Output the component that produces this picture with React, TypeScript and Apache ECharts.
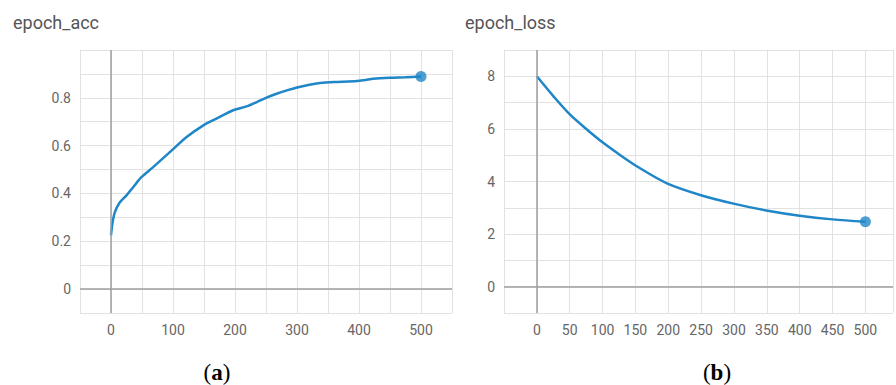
import React, { useEffect, useRef } from "react";
import * as echarts from "echarts";

const accEpochs = [0, 2, 6, 14, 25, 36, 49, 68, 98, 122, 149, 170, 197, 220, 235, 250, 267, 285, 300, 320, 337, 360, 391, 410, 423, 450, 475, 500];
const accValues = [0.225, 0.27, 0.32, 0.362, 0.392, 0.427, 0.468, 0.51, 0.58, 0.636, 0.685, 0.713, 0.748, 0.765, 0.782, 0.8, 0.817, 0.832, 0.843, 0.855, 0.862, 0.866, 0.869, 0.875, 0.88, 0.884, 0.886, 0.889];

const lossEpochs = [0, 26, 51, 77, 102, 127, 152, 198, 251, 301, 349, 400, 450, 500];
const lossValues = [8.0, 7.22, 6.53, 5.96, 5.45, 5.0, 4.58, 3.93, 3.47, 3.15, 2.9, 2.7, 2.56, 2.47];

const accTitle = "epoch_acc";
const lossTitle = "epoch_loss";
const accYLabels = [0, 0.2, 0.4, 0.6, 0.8];
const lossYLabels = [0, 2, 4, 6, 8];
const accXLabels = [0, 100, 200, 300, 400, 500];
const lossXLabels = [0, 50, 100, 150, 200, 250, 300, 350, 400, 450, 500];

const LINE = "#1f86c8";
const GRID = "#e2e2e2";
const ZERO = "#9e9e9e";
const LABEL = "#666";
const FONT = "Roboto, 'Noto Sans', sans-serif";

const near = (v: number, list: number[]) => list.some((t) => Math.abs(t - v) < 1e-6);

export default function App() {
  const ref = useRef<HTMLDivElement>(null);
  useEffect(() => {
    if (!ref.current) return;
    const chart = echarts.init(ref.current, null, { renderer: "svg" });
    const xAxisBase = (gridIndex: number, max: number, labels: number[]) => ({
      type: "value",
      gridIndex,
      min: -50,
      max,
      interval: 50,
      axisLine: { show: false },
      axisTick: { show: true, length: 7, lineStyle: { color: GRID } },
      splitLine: { show: true, lineStyle: { color: GRID, width: 1 } },
      axisLabel: {
        color: LABEL,
        fontSize: 14,
        fontFamily: FONT,
        margin: 10,
        showMinLabel: true,
        showMaxLabel: true,
        formatter: (v: number) => (near(v, labels) ? String(v) : ""),
      },
    });
    const yAxisBase = (gridIndex: number, min: number, max: number, interval: number, labels: number[]) => ({
      type: "value",
      gridIndex,
      min,
      max,
      interval,
      axisLine: { show: false },
      axisTick: { show: true, length: 7, lineStyle: { color: GRID } },
      splitLine: { show: true, lineStyle: { color: GRID, width: 1 } },
      axisLabel: {
        color: LABEL,
        fontSize: 14,
        fontFamily: FONT,
        margin: 9,
        showMinLabel: true,
        showMaxLabel: true,
        formatter: (v: number) => (near(v, labels) ? String(Math.round(v * 10) / 10) : ""),
      },
    });
    const zeroMark = {
      silent: true,
      symbol: "none",
      label: { show: false },
      lineStyle: { color: ZERO, width: 1.5, type: "solid" },
      data: [{ xAxis: 0 }, { yAxis: 0 }],
    };
    const caption = (x: number, letter: string) => ({
      type: "text",
      x,
      y: 372,
      style: {
        text: "{p|(}{b|" + letter + "}{p|)}",
        align: "center",
        verticalAlign: "middle",
        rich: {
          p: { fontSize: 23, fontFamily: "'Liberation Serif', serif", fill: "#000" },
          b: { fontSize: 23, fontFamily: "'Liberation Serif', serif", fontWeight: "bold", fill: "#000" },
        },
      },
    });
    chart.setOption({
      animation: false,
      grid: [
        { left: 80, top: 50, width: 372, height: 263 },
        { left: 504, top: 50, width: 392, height: 263 },
      ],
      xAxis: [xAxisBase(0, 550, accXLabels), xAxisBase(1, 542, lossXLabels)],
      yAxis: [
        yAxisBase(0, -0.1, 1.0, 0.1, accYLabels),
        yAxisBase(1, -1, 9, 1, lossYLabels),
      ],
      graphic: [
        { type: "text", left: 13, top: 13, style: { text: accTitle, fontSize: 18, fill: "#555", fontFamily: FONT } },
        { type: "text", left: 465, top: 13, style: { text: lossTitle, fontSize: 18, fill: "#555", fontFamily: FONT } },
        caption(217, "a"),
        caption(717, "b"),
      ],
      series: [
        {
          type: "line",
          xAxisIndex: 0,
          yAxisIndex: 0,
          data: accEpochs.map((e, i) => [e, accValues[i]]),
          smooth: 0.3,
          showSymbol: false,
          lineStyle: { color: LINE, width: 2.5 },
          itemStyle: { color: LINE },
          markLine: zeroMark,
          z: 3,
        },
        {
          type: "scatter",
          xAxisIndex: 0,
          yAxisIndex: 0,
          data: [[accEpochs[accEpochs.length - 1], accValues[accValues.length - 1]]],
          symbolSize: 11,
          itemStyle: { color: LINE },
          z: 4,
        },
        {
          type: "line",
          xAxisIndex: 1,
          yAxisIndex: 1,
          data: lossEpochs.map((e, i) => [e, lossValues[i]]),
          smooth: 0.3,
          showSymbol: false,
          lineStyle: { color: LINE, width: 2.5 },
          itemStyle: { color: LINE },
          markLine: zeroMark,
          z: 3,
        },
        {
          type: "scatter",
          xAxisIndex: 1,
          yAxisIndex: 1,
          data: [[lossEpochs[lossEpochs.length - 1], lossValues[lossValues.length - 1]]],
          symbolSize: 11,
          itemStyle: { color: LINE },
          z: 4,
        },
      ],
    });
    return () => chart.dispose();
  }, []);
  return (
    <div
      ref={ref}
      style={{ position: "fixed", left: 0, top: 0, width: 896, height: 385, background: "#fff" }}
    />
  );
}
